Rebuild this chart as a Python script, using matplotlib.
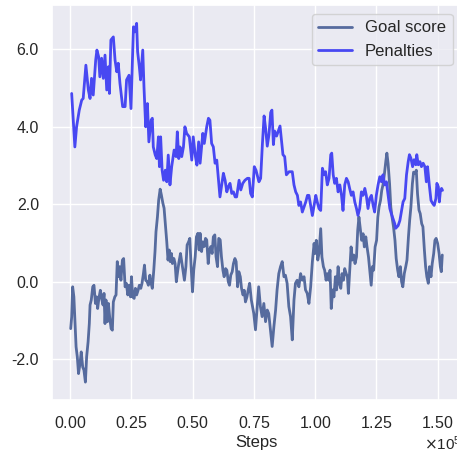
import numpy as np
import matplotlib
matplotlib.use("Agg")
from matplotlib import pyplot
from matplotlib.ticker import MultipleLocator, ScalarFormatter, FormatStrFormatter
import seaborn as sns

# steps are in thousands
goal_ksteps = [
    0.3, 0.7, 1.1, 1.6, 2.0, 2.5, 3.0, 3.5, 4.1, 4.6, 5.2, 5.7, 6.3, 6.8, 7.4, 7.9, 8.2, 8.7, 9.3, 9.8,
    10.4, 10.9, 11.3, 11.8, 12.4, 12.9, 13.5, 13.9, 14.3, 14.7, 15.3, 15.7, 16.2, 16.8, 17.3, 17.7, 18.3, 18.8, 19.3, 19.9,
    20.3, 20.8, 21.4, 21.9, 22.5, 23.0, 23.6, 24.1, 24.7, 25.1, 25.6, 26.2, 26.7, 27.2, 27.8, 28.3, 28.9, 29.4, 30.0, 30.4,
    30.9, 31.5, 32.0, 32.6, 33.1, 33.6, 34.2, 34.7, 35.1, 35.7, 36.2, 36.8, 37.3, 37.9, 38.4, 39.0, 39.5, 40.0, 40.5, 40.9,
    41.4, 41.8, 42.4, 42.9, 43.4, 44.0, 44.5, 45.1, 45.6, 46.2, 46.7, 47.3, 47.8, 48.4, 48.9, 49.4, 50.0, 50.5, 51.1, 51.6,
    52.2, 52.7, 53.1, 53.7, 54.2, 54.8, 55.3, 55.8, 56.4, 56.9, 57.5, 58.0, 58.5, 59.1, 59.6, 60.2, 60.7, 61.3, 61.8, 62.4,
    62.9, 63.5, 64.0, 64.6, 65.1, 65.6, 66.2, 66.7, 67.3, 67.8, 68.4, 68.9, 69.5, 70.0, 70.6, 71.1, 71.6, 72.2, 72.7, 73.3,
    74.0, 75.0, 75.7, 76.4, 77.0, 77.7, 78.4, 79.1, 79.8, 80.5, 81.1, 81.8, 82.5, 83.2, 83.9, 84.5, 85.2, 85.9, 86.6, 87.3,
    87.9, 88.6, 89.3, 90.0, 90.7, 91.4, 92.0, 92.7, 93.4, 94.1, 94.8, 95.5, 96.1, 96.8, 97.5, 98.2, 98.9, 99.6, 100.0, 100.5,
    101.1, 101.6, 102.3, 102.8, 103.4, 103.9, 104.5, 105.0, 105.6, 106.1, 106.6, 107.2, 107.7, 108.3, 108.8, 109.4, 109.9, 110.5, 111.0, 111.6,
    112.1, 112.7, 113.2, 113.6, 114.1, 114.7, 115.2, 115.8, 116.3, 116.9, 117.4, 117.9, 118.5, 119.0, 119.6, 120.1, 120.7, 121.2, 121.8, 122.3,
    122.9, 123.4, 123.9, 124.5, 125.1, 125.6, 126.1, 126.7, 127.2, 127.8, 128.3, 128.9, 129.3, 129.8, 130.4, 130.9, 131.4, 132.0, 132.6, 133.1,
    133.7, 134.2, 134.8, 135.3, 135.8, 136.4, 137.0, 137.5, 138.1, 138.6, 139.1, 139.7, 140.2, 140.8, 141.3, 141.8, 142.4, 142.9, 143.5, 144.0,
    144.6, 145.1, 145.6, 146.2, 146.7, 147.3, 147.8, 148.4, 148.9, 149.4, 150.0, 150.6, 151.1, 151.5, 151.9,
]
goal_score = [
    -1.21, -0.91, -0.13, -0.39, -0.99, -1.68, -1.94, -2.37, -2.11, -1.81, -2.20, -2.28, -2.59, -1.94, -1.55, -1.08, -0.60, -0.47, -0.13, -0.09,
    -0.56, -0.39, -0.69, -0.43, -0.22, -0.43, -0.60, -0.30, -1.08, -0.47, -1.03, -0.56, -0.91, -1.21, -1.25, -0.52, -0.39, -0.34, 0.52, 0.13,
    0.39, 0.04, 0.56, 0.60, -0.13, -0.04, -0.34, -0.09, -0.39, 0.13, -0.39, -0.43, -0.17, -0.34, -0.22, -0.09, -0.17, -0.04, 0.22, 0.43,
    0.04, 0.00, -0.09, 0.17, -0.04, -0.17, 0.30, 0.78, 1.29, 1.68, 2.11, 2.39, 2.24, 2.03, 1.90, 1.42, 1.03, 0.56, 0.82, 0.52,
    0.73, 0.47, 0.60, 0.47, 0.00, 0.30, 0.52, 0.73, 0.52, 0.26, 0.04, 0.39, 0.95, 1.03, 1.12, 0.43, -0.26, 0.30, 0.65, 1.16,
    1.25, 0.82, 1.25, 0.78, 1.03, 0.91, 1.12, 1.08, 0.47, 0.82, 0.91, 0.73, 1.16, 1.21, 0.65, 0.39, 1.12, 1.08, 0.65, 0.30,
    0.13, 0.34, 0.30, 0.00, -0.09, 0.17, 0.26, 0.47, 0.60, 0.52, -0.13, 0.26, 0.13, -0.17, -0.34, -0.22, -0.52, -0.39, -0.22, -0.04,
    -0.47, -0.82, -1.24, -0.64, -0.13, -0.64, -0.90, -0.56, -1.03, -0.73, -0.82, -1.24, -1.67, -1.16, -0.73, -0.21, 0.21, 0.39, 0.52, 0.13,
    0.17, -0.04, -0.64, -0.90, -1.50, -0.47, -0.04, 0.04, -0.13, 0.21, 0.04, 0.13, -0.21, -0.30, -0.56, -0.13, 0.52, 0.99, 0.73, 1.07,
    0.56, 0.73, 1.37, 0.64, 0.39, 0.30, 0.04, 0.21, 0.04, 0.30, -0.69, -0.21, -0.39, 0.13, -0.21, 0.39, -0.04, -0.17, 0.21, 0.04,
    0.34, 0.21, 0.13, -0.30, 0.26, 0.90, 0.56, 0.69, 0.47, 0.64, 1.33, 1.67, 1.33, 1.07, 1.24, 0.90, 1.16, 0.90, 0.64, 0.30,
    -0.09, 0.39, 0.30, 0.90, 1.07, 1.67, 1.93, 2.10, 2.36, 2.53, 2.79, 3.13, 3.32, 3.05, 2.53, 1.93, 1.67, 1.42, 1.07, 0.60,
    0.30, 0.13, 0.39, 0.00, -0.13, 0.21, 0.39, 0.56, 1.16, 1.59, 1.93, 2.53, 2.83, 2.79, 2.88, 2.27, 1.85, 1.76, 1.50, 1.42,
    0.82, 0.39, 0.13, -0.04, 0.39, 0.13, 0.47, 0.73, 1.07, 1.12, 0.99, 0.73, 0.39, 0.26, 0.69,
]

penalty_ksteps = [
    0.7, 2.0, 2.7, 3.8, 4.8, 5.4, 6.5, 7.5, 8.2, 8.8, 9.5, 10.5, 11.0, 11.7, 12.2, 12.9, 13.6, 14.3, 15.0, 15.7,
    16.1, 16.7, 17.7, 18.4, 19.1, 19.7, 20.4, 21.5, 22.5, 23.1, 24.1, 24.9, 25.9, 26.5, 27.2, 27.6, 28.3, 28.8, 29.7, 30.2,
    30.9, 31.6, 32.2, 33.1, 33.6, 34.0, 34.8, 35.4, 36.1, 36.5, 37.0, 37.6, 38.2, 38.9, 39.5, 40.1, 40.8, 41.5, 42.5, 43.3,
    43.8, 44.4, 44.9, 45.6, 46.3, 46.9, 47.6, 48.7, 49.7, 50.3, 51.2, 51.8, 52.5, 53.1, 54.2, 54.8, 55.8, 56.5, 57.1, 57.8,
    58.5, 59.2, 59.9, 60.5, 61.2, 62.6, 63.3, 64.0, 64.6, 65.3, 66.0, 66.7, 67.4, 68.0, 69.0, 69.7, 70.5, 71.4, 72.4, 73.1,
    73.7, 74.4, 75.2, 75.9, 77.1, 77.8, 78.5, 79.2, 79.8, 80.5, 81.2, 81.9, 82.4, 83.0, 83.5, 84.3, 85.0, 85.7, 86.2, 86.9,
    87.6, 88.3, 89.4, 90.7, 91.4, 92.1, 92.8, 93.4, 94.1, 94.8, 95.5, 96.2, 96.9, 97.5, 98.2, 98.9, 99.6, 100.3, 100.9, 101.6,
    102.3, 103.0, 103.7, 104.3, 105.0, 105.7, 106.4, 106.8, 107.4, 108.0, 108.7, 109.4, 110.1, 110.8, 111.4, 112.1, 112.8, 113.5, 114.1, 114.8,
    115.5, 116.2, 116.9, 117.5, 118.2, 118.9, 119.6, 120.3, 120.9, 121.6, 122.3, 123.0, 123.7, 124.3, 125.0, 125.7, 126.4, 127.1, 127.7, 128.4,
    129.1, 129.8, 130.5, 131.1, 131.8, 132.5, 132.9, 133.9, 134.6, 135.3, 135.9, 136.6, 137.3, 138.0, 138.5, 139.1, 139.8, 140.4, 141.1, 141.5,
    142.1, 142.8, 143.4, 144.1, 144.8, 145.4, 145.9, 146.6, 147.3, 148.0, 148.6, 149.3, 149.7, 150.3, 150.7, 151.1, 151.6, 152.0,
]
penalties = [
    4.86, 3.48, 4.00, 4.43, 4.69, 4.73, 5.59, 4.95, 4.73, 5.25, 4.82, 5.72, 5.98, 5.81, 5.29, 5.77, 5.25, 5.85, 4.95, 5.55,
    4.86, 6.24, 6.32, 5.72, 5.42, 5.64, 5.12, 4.52, 4.52, 5.21, 5.33, 4.47, 6.58, 6.45, 6.67, 5.94, 5.55, 5.21, 5.98, 5.03,
    4.00, 4.60, 3.61, 4.17, 4.22, 3.48, 3.27, 3.18, 3.74, 2.97, 3.74, 2.88, 2.62, 2.88, 2.58, 3.27, 2.50, 2.97, 3.40, 3.23,
    3.87, 3.18, 3.48, 3.23, 3.48, 4.00, 3.83, 3.74, 3.14, 3.74, 3.23, 3.01, 3.61, 3.06, 3.83, 3.57, 4.00, 4.22, 4.17, 3.57,
    3.48, 3.06, 3.14, 2.71, 2.19, 2.80, 2.62, 2.32, 2.45, 2.54, 2.28, 2.32, 2.19, 2.19, 2.62, 2.37, 2.54, 2.62, 2.67, 2.67,
    2.28, 2.19, 2.97, 2.88, 2.58, 2.67, 3.54, 4.28, 3.97, 3.50, 3.80, 4.37, 4.43, 3.54, 3.89, 3.76, 3.89, 4.02, 3.71, 3.28,
    3.23, 2.76, 2.84, 2.84, 2.50, 2.32, 2.23, 1.97, 2.06, 1.80, 1.93, 2.06, 2.23, 2.23, 1.97, 1.71, 1.97, 2.23, 2.06, 1.89,
    1.84, 2.93, 2.76, 2.84, 2.50, 2.67, 3.28, 3.32, 2.76, 2.54, 2.67, 2.32, 2.50, 2.23, 1.84, 2.50, 2.67, 2.58, 2.41, 2.23,
    2.32, 2.06, 1.89, 1.71, 1.89, 2.32, 2.23, 2.41, 2.23, 1.89, 2.15, 2.23, 1.97, 1.80, 2.23, 2.50, 2.71, 2.58, 2.76, 2.50,
    2.58, 2.23, 1.89, 1.76, 1.63, 1.50, 1.38, 1.45, 1.58, 1.84, 2.06, 2.15, 2.76, 3.10, 3.28, 3.19, 2.97, 3.15, 3.02, 3.28,
    3.02, 3.10, 2.97, 3.06, 2.97, 2.58, 2.97, 2.50, 2.10, 2.02, 1.97, 2.15, 2.54, 2.45, 2.06, 2.32, 2.41, 2.36,
]

sns.set_theme(style="darkgrid")
pyplot.rcParams["font.family"] = ["Liberation Sans", "DejaVu Sans"]

figure = pyplot.figure(figsize=(4.57, 4.5), dpi=100)
axis = figure.add_axes([0.114, 0.111, 0.895, 0.877])

axis.plot(np.array(goal_ksteps)*1000, goal_score, color="#566b9e", lw=2, label="Goal score")
axis.plot(np.array(penalty_ksteps)*1000, penalties, color="#4848f2", lw=2, label="Penalties")

axis.xaxis.set_major_locator(MultipleLocator(25000))
xfmt = ScalarFormatter(useMathText=True)
xfmt.set_powerlimits((0, 0))
axis.xaxis.set_major_formatter(xfmt)

axis.yaxis.set_major_locator(MultipleLocator(2))
axis.yaxis.set_major_formatter(FormatStrFormatter("%.1f"))

axis.tick_params(axis="both", labelsize=11.5)
axis.tick_params(axis="x", pad=4.5)

axis.set_xlabel("Steps", fontsize=12, labelpad=3)
axis.legend(loc="upper right", fontsize=12)

figure.savefig("out.png", dpi=100)
